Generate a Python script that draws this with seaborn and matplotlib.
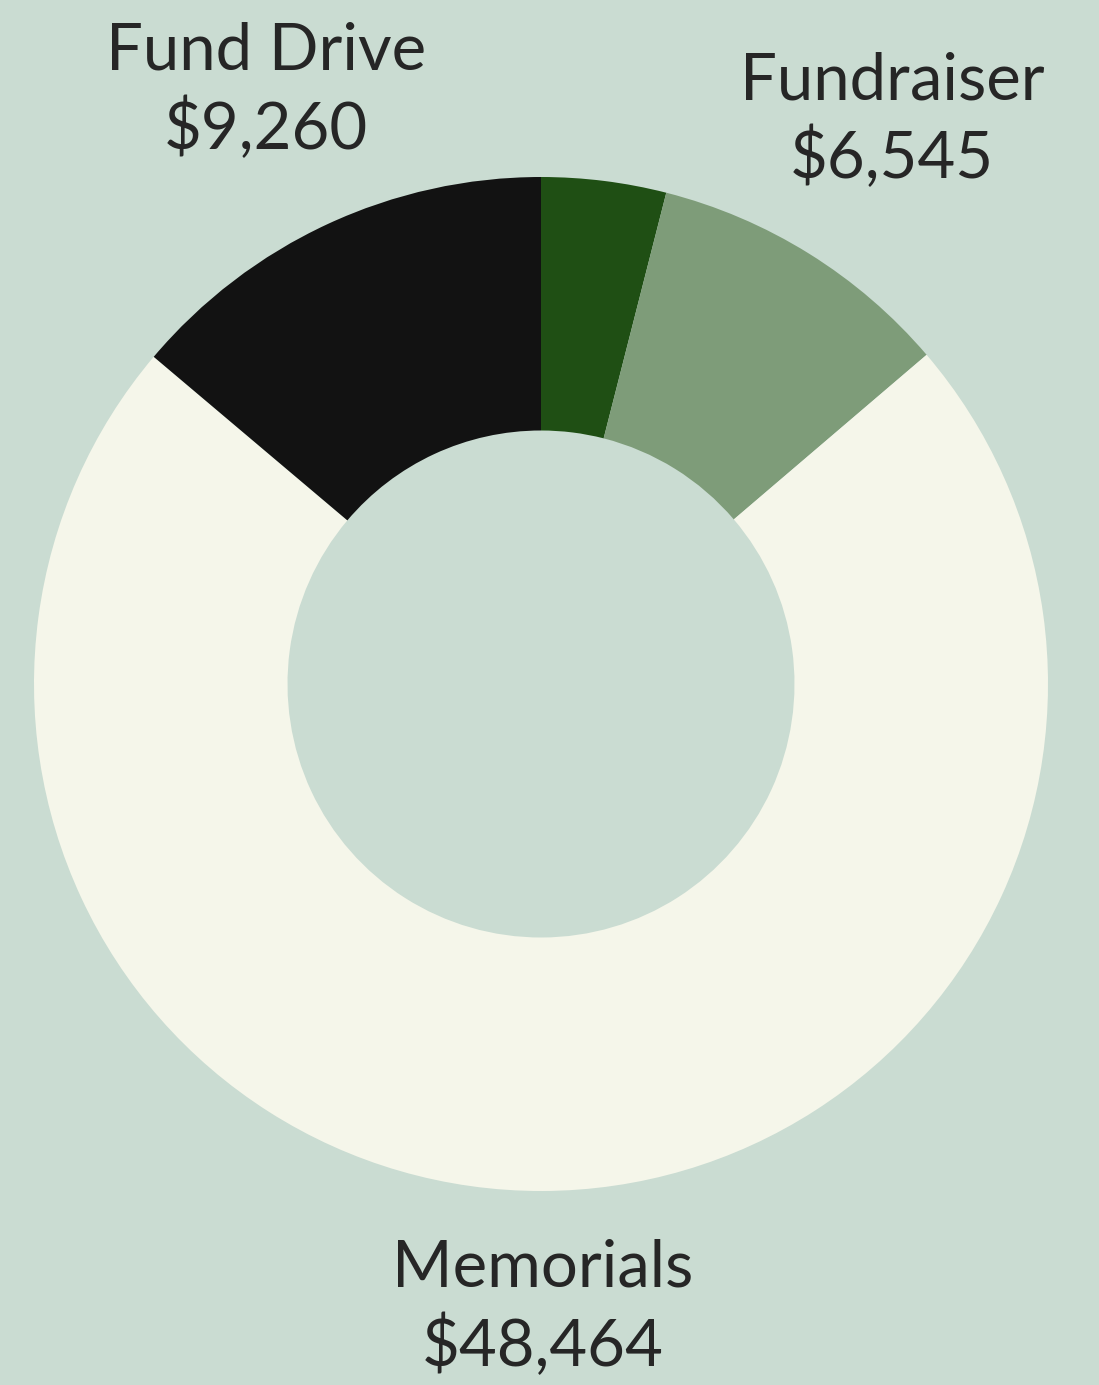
import matplotlib.pyplot as plt
import numpy as np
import seaborn as sns

# donation sources, clockwise from 12 o'clock
categories = ["Other", "Fundraiser", "Memorials", "Fund Drive"]
amounts = [2660, 6545, 48464, 9260]
show_label = [False, True, True, True]

colors = ["#1f4f14", "#7e9c79", "#f5f6ea", "#121212"]
bg = "#cadcd2"

sns.set_theme(style="white", rc={"figure.facecolor": bg, "axes.facecolor": bg})
plt.rcParams["font.family"] = ["Lato", "DejaVu Sans"]

W, H, dpi = 1099, 1385, 100
fig = plt.figure(figsize=(W / dpi, H / dpi), dpi=dpi)
ax = fig.add_axes([0, 0, 1, 1])

# center of ring in pixels, outer radius in pixels
cx, cy, R = 541, 684, 507

wedges, _ = ax.pie(amounts, colors=colors, startangle=90, counterclock=False,
                   radius=1.0, wedgeprops=dict(width=0.5, linewidth=0))
ax.set_xlim(-cx / R, (W - cx) / R)
ax.set_ylim(-(H - cy) / R, cy / R)
ax.axis("off")

# distance of each label block centre from the ring centre
label_r = {"Fundraiser": 1.31, "Memorials": 1.23, "Fund Drive": 1.29}
for w, name, amt, show in zip(wedges, categories, amounts, show_label):
    if not show:
        continue
    mid = np.deg2rad((w.theta1 + w.theta2) / 2)
    r = label_r[name]
    ax.text(r * np.cos(mid), r * np.sin(mid), f"{name}\n${amt:,}",
            ha="center", va="center", fontsize=47, color="#262626",
            linespacing=1.3, fontweight="normal")

fig.savefig("out.png", dpi=dpi, facecolor=bg)
